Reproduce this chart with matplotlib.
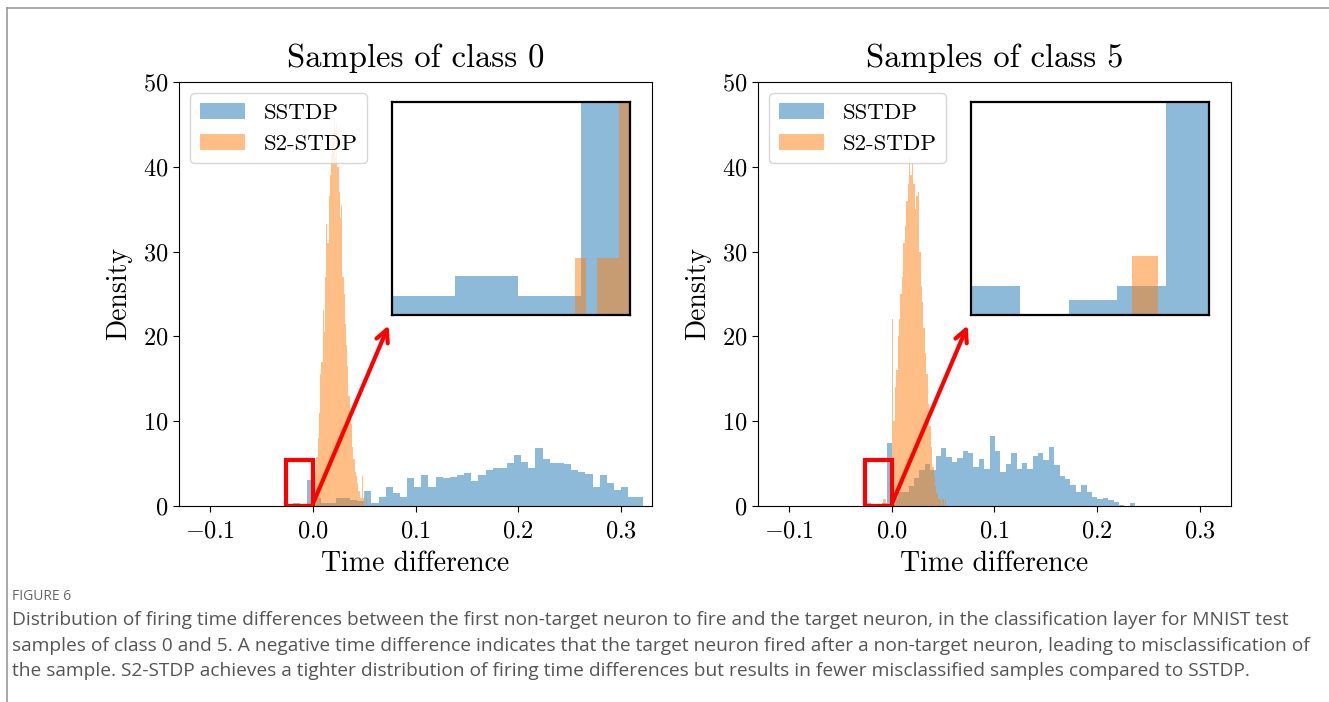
import numpy as np
import matplotlib
matplotlib.use("Agg")
import matplotlib.pyplot as plt
from matplotlib.patches import Rectangle
from matplotlib.lines import Line2D

plt.rcParams['font.family'] = 'serif'
plt.rcParams['font.serif'] = ['cmr10']
plt.rcParams['mathtext.fontset'] = 'cm'
plt.rcParams['axes.formatter.use_mathtext'] = True

titles = ["Samples of class 0", "Samples of class 5"]
labels = ["SSTDP", "S2-STDP"]

# SSTDP histograms (50 bins each): start edge, bin width, heights
sstdp_start = [-0.0262, -0.0256]
sstdp_width = [0.00694, 0.00525]
sstdp_c0 = [0.15, 0.30, 0.15, 3.07, 1.0, 0.3, 0.3, 1.0, 1.0, 0.7,
            0.6, 1.77, 0.39, 1.1, 2.28, 1.57, 1.1, 3.3, 2.28, 3.6,
            2.28, 3.46, 3.3, 3.46, 3.6, 3.93, 2.98, 3.6, 4.24, 4.5,
            4.5, 5.1, 6.0, 5.2, 4.5, 6.84, 5.54, 5.1, 5.1, 4.95,
            4.24, 4.05, 3.77, 2.28, 3.6, 2.75, 1.89, 2.28, 1.1, 1.1]
sstdp_c5 = [0.4, 0.0, 0.2, 0.4, 7.46, 1.0, 1.7, 1.7, 2.3, 3.3,
            4.2, 5.0, 4.2, 5.9, 6.8, 5.8, 5.2, 5.7, 6.5, 6.3,
            4.6, 5.5, 4.4, 8.25, 6.5, 4.05, 5.0, 6.2, 4.4, 5.1,
            4.4, 5.9, 6.3, 5.4, 7.0, 4.83, 3.54, 3.15, 2.48, 1.61,
            2.48, 1.61, 1.1, 0.83, 0.96, 0.7, 0.5, 0.15, 0.0, 0.4]

# S2-STDP histograms: start edge, bin width, heights
s2_start = [-0.0060, -0.0083]
s2_width = [0.0012, 0.0014]
s2_c0 = [0.44, 0.0, 0.44, 0.44, 2.0, 2.5, 3.0, 4.0, 5.8, 8.0,
         11.0, 15.6, 17.0, 23.1, 20.5, 27.0, 33.3, 31.0, 36.5, 39.0,
         41.5, 44.0, 45.6, 41.0, 45.0, 40.0, 37.0, 34.0, 35.5, 27.0,
         25.0, 21.5, 19.0, 16.5, 13.0, 11.0, 9.7, 7.0, 5.5, 4.0,
         3.5, 2.7, 1.8, 1.0, 0.9, 3.5, 0.9, 0.0, 0.9, 0.0]
s2_c5 = [0.8, 0.8, 0.0, 0.0, 0.0, 0.0, 22.0, 10.0, 14.0, 16.0,
         20.0, 22.0, 25.0, 27.0, 31.0, 33.0, 36.0, 38.0, 41.0, 39.0,
         40.5, 38.0, 35.0, 36.5, 37.0, 30.0, 26.0, 24.0, 21.0, 18.0,
         15.6, 12.0, 9.4, 7.0, 4.6, 3.5, 2.3, 1.5, 0.8, 0.8,
         0.0, 0.8, 0.0, 0.8]

sstdp = [sstdp_c0, sstdp_c5]
s2 = [s2_c0, s2_c5]
inset_ytop = [1.65, 2.9]

caption = ("Distribution of firing time differences between the first non-target neuron to fire and the target neuron, in the classification layer for MNIST test\n"
           "samples of class 0 and 5. A negative time difference indicates that the target neuron fired after a non-target neuron, leading to misclassification of\n"
           "the sample. S2-STDP achieves a tighter distribution of firing time differences but results in fewer misclassified samples compared to SSTDP.")


def edges_of(start, width, n):
    return start + width * np.arange(n + 1)


def draw_hists(ax, i):
    e1 = edges_of(sstdp_start[i], sstdp_width[i], len(sstdp[i]))
    e2 = edges_of(s2_start[i], s2_width[i], len(s2[i]))
    ax.hist(e1[:-1], bins=e1, weights=sstdp[i], alpha=0.5, color='C0', label=labels[0])
    ax.hist(e2[:-1], bins=e2, weights=s2[i], alpha=0.5, color='C1', label=labels[1])
    return e1


fig = plt.figure(figsize=(13.29, 7.02), dpi=100)
W, H = 1329, 702

main_left = [179, 758]
inset_left = [392, 971]

for i in range(2):
    ax = fig.add_axes([main_left[i] / W, 1 - 506 / H, 473 / W, 424 / H])
    e1 = draw_hists(ax, i)
    ax.set_xlim(-0.13, 0.33)
    ax.set_ylim(0, 50)
    ax.set_xticks([-0.1, 0.0, 0.1, 0.2, 0.3])
    ax.set_yticks([0, 10, 20, 30, 40, 50])
    ax.tick_params(labelsize=17.5, length=4)
    ax.tick_params(axis='x', pad=6)
    ax.set_title(titles[i], fontsize=23.5, pad=11)
    ax.set_xlabel("Time difference", fontsize=20, labelpad=6)
    ax.set_ylabel("Density", fontsize=20, labelpad=8)
    ax.legend(loc='upper left', fontsize=16.5, borderaxespad=0.5)

    # zoom box and arrow
    x0 = e1[0]
    ax.add_patch(Rectangle((x0, 0), -x0, 5.4, fill=False, edgecolor='red', lw=3, zorder=5))
    ax.annotate('', xy=(0.075, 21.6), xytext=(0.0, 0.2),
                arrowprops=dict(arrowstyle='->', color='red', lw=3, mutation_scale=22),
                zorder=6)

    axi = fig.add_axes([inset_left[i] / W, 1 - 315 / H, 238 / W, 213 / H])
    draw_hists(axi, i)
    axi.set_xlim(x0, 0.0)
    axi.set_ylim(0, inset_ytop[i])
    axi.set_xticks([])
    axi.set_yticks([])
    for s in axi.spines.values():
        s.set_linewidth(1.6)

# caption
cap_font = ['Open Sans', 'DejaVu Sans']
fig.text(12 / W, 1 - 597 / H, "FIGURE 6", fontsize=10, color='#666666',
         family=cap_font, va='center')
fig.text(12 / W, 1 - 611 / H, caption, fontsize=13.8, color='#555555',
         family=cap_font, va='top', linespacing=1.55)

# page frame
fig.add_artist(Line2D([7 / W, 1], [1 - 8 / H, 1 - 8 / H], color='#999999', lw=1.2))
fig.add_artist(Line2D([7 / W, 7 / W], [0, 1 - 8 / H], color='#999999', lw=1.2))

fig.savefig("out.png", dpi=100)
